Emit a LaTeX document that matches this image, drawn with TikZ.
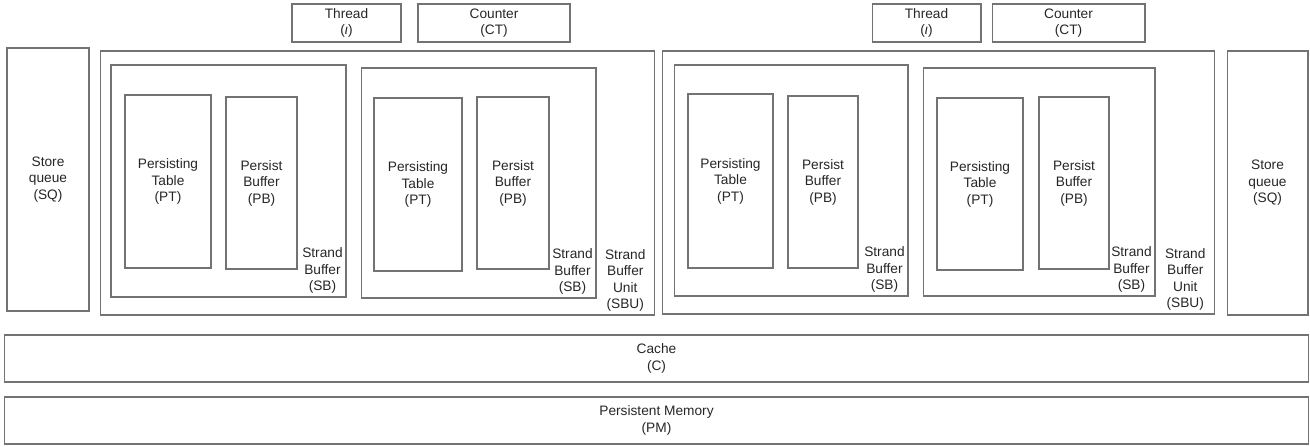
\documentclass[tikz,border=0pt]{standalone}
\usepackage{fontspec}
\setmainfont{Liberation Sans}
\usetikzlibrary{positioning}

\begin{document}
\begin{tikzpicture}[
  x=0.02cm, y=-0.02cm,
  blk/.style 2 args={
    rectangle, draw=black!55, line width=0.6pt,
    minimum width=#1, minimum height=#2,
    inner sep=0pt, align=center, text=black!85,
    font=\fontsize{7.8}{9.4}\selectfont
  },
  lbl/.style={anchor=south east, inner sep=2pt, align=center, text=black!85,
    font=\fontsize{7.8}{9.4}\selectfont}
]
\useasboundingbox (0,0) rectangle (1310,446);

% Store queues
\node[blk={1.64cm}{5.26cm}] (sqL) at (48,179.5) {Store\\queue\\(SQ)};
\node[blk={1.62cm}{5.28cm}] (sqR) at (1267.5,183) {Store\\queue\\(SQ)};

% Strand buffer units
\node[blk={11.10cm}{5.28cm}] (sbuL) at (377.5,183) {};
\node[blk={11.06cm}{5.26cm}] (sbuR) at (938.5,182.5) {};
\node[lbl, xshift=-3.5pt] at (sbuL.south east) {Strand\\Buffer\\Unit\\(SBU)};
\node[lbl, xshift=-3.5pt] at (sbuR.south east) {Strand\\Buffer\\Unit\\(SBU)};

% Strand buffers
\node[blk={4.70cm}{4.64cm}] (sb1) at (228.5,181) {};
\node[blk={4.70cm}{4.60cm}] (sb2) at (478.5,183) {};
\node[blk={4.68cm}{4.62cm}] (sb3) at (791,180.5) {};
\node[blk={4.64cm}{4.56cm}] (sb4) at (1039,182) {};
\node[lbl] at (sb1.south east) {Strand\\Buffer\\(SB)};
\node[lbl] at (sb2.south east) {Strand\\Buffer\\(SB)};
\node[lbl] at (sb3.south east) {Strand\\Buffer\\(SB)};
\node[lbl] at (sb4.south east) {Strand\\Buffer\\(SB)};

% Persisting tables and persist buffers
\node[blk={1.72cm}{3.46cm}] (pt1) at (168,181.5) {Persisting\\Table\\(PT)};
\node[blk={1.42cm}{3.44cm}] (pb1) at (261.5,183) {Persist\\Buffer\\(PB)};
\node[blk={1.76cm}{3.46cm}] (pt2) at (418,184.5) {Persisting\\Table\\(PT)};
\node[blk={1.44cm}{3.44cm}] (pb2) at (513,183) {Persist\\Buffer\\(PB)};
\node[blk={1.70cm}{3.48cm}] (pt3) at (730.5,181) {Persisting\\Table\\(PT)};
\node[blk={1.40cm}{3.44cm}] (pb3) at (823,182) {Persist\\Buffer\\(PB)};
\node[blk={1.72cm}{3.44cm}] (pt4) at (980,184) {Persisting\\Table\\(PT)};
\node[blk={1.40cm}{3.44cm}] (pb4) at (1074,183) {Persist\\Buffer\\(PB)};

% Thread and counter
\node[blk={2.18cm}{0.76cm}] (thr1) at (346.5,23) {Thread\\(\textit{ι})};
\node[blk={3.04cm}{0.76cm}] (ctr1) at (494,23) {Counter\\(CT)};
\node[blk={2.18cm}{0.76cm}] (thr2) at (926.5,23) {Thread\\(\textit{ι})};
\node[blk={3.06cm}{0.76cm}] (ctr2) at (1068.5,23) {Counter\\(CT)};

% Cache and memory
\node[blk={26.10cm}{0.94cm}] (cache) at (656.5,358.5) {Cache\\(C)};
\node[blk={26.10cm}{0.94cm}] (pm) at (656.5,420.5) {Persistent Memory\\(PM)};

\end{tikzpicture}
\end{document}
